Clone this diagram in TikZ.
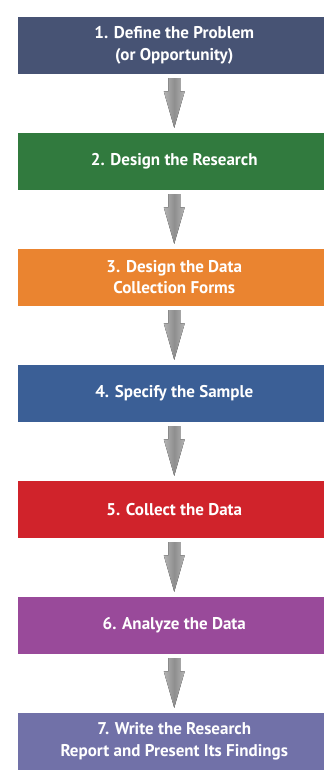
\documentclass[tikz,border=0pt]{standalone}
\usepackage{fontspec}
\setmainfont{PT Sans}
\usetikzlibrary{calc,backgrounds}
\definecolor{cone}{HTML}{475374}
\definecolor{ctwo}{HTML}{317A3E}
\definecolor{cthree}{HTML}{EA8430}
\definecolor{cfour}{HTML}{3B5F96}
\definecolor{cfive}{HTML}{D0232B}
\definecolor{csix}{HTML}{994A9A}
\definecolor{cseven}{HTML}{7171A8}
\definecolor{arrowedge}{HTML}{B4B4B4}
\definecolor{arrowmid}{HTML}{8E8E8E}
\begin{document}
\begin{tikzpicture}[x=1pt,y=-1pt,
  stepbox/.style={minimum width=313.5pt, minimum height=57.5pt, inner sep=0pt,
    text=white, align=center, font=\fontsize{17}{21.5}\selectfont\bfseries, fill=#1},
  flowarrow/.style={left color=arrowedge, right color=arrowedge, middle color=arrowmid}]
\useasboundingbox (0,0) rectangle (324,772);
\fill[white] (0,0) rectangle (324,772);
\node[stepbox=cone]   (b1) at (174.25,45.25)  {1. Define the Problem\\(or Opportunity)};
\node[stepbox=ctwo]   (b2) at (174.25,161.25) {2. Design the Research};
\node[stepbox=cthree] (b3) at (174.25,277.25) {3. Design the Data\\Collection Forms};
\node[stepbox=cfour]  (b4) at (174.25,393.25) {4. Specify the Sample};
\node[stepbox=cfive]  (b5) at (174.25,509.25) {5. Collect the Data};
\node[stepbox=csix]   (b6) at (174.25,625.25) {6. Analyze the Data};
\node[stepbox=cseven] (b7) at (174.25,741.25) {7. Write the Research\\Report and Present Its Findings};
\begin{pgfonlayer}{background}
\foreach \b in {b1,b2,b3,b4,b5,b6,b7} {
  \foreach \i in {1,...,10} {
    \fill[black, opacity=0.042] ($(\b.north west)+(-4-\i,-4-\i+1.5)$) rectangle ($(\b.south east)+(4+\i,4+\i+1.5)$);
  }
  \fill[white] ($(\b.north west)+(-4,-4)$) rectangle ($(\b.south east)+(4,4)$);
}
\end{pgfonlayer}
\foreach \a/\c in {b1/b2,b2/b3,b3/b4,b4/b5,b5/b6,b6/b7} {
  \fill[flowarrow] ($(\a.south)+(-6,4)$) -- ($(\a.south)+(6,4)$) -- ($(\c.north)+(6,-41)$)
    -- ($(\c.north)+(10.5,-41)$) -- ($(\c.north)+(0,-4.5)$) -- ($(\c.north)+(-10.5,-41)$)
    -- ($(\c.north)+(-6,-41)$) -- cycle;
}
\end{tikzpicture}
\end{document}
